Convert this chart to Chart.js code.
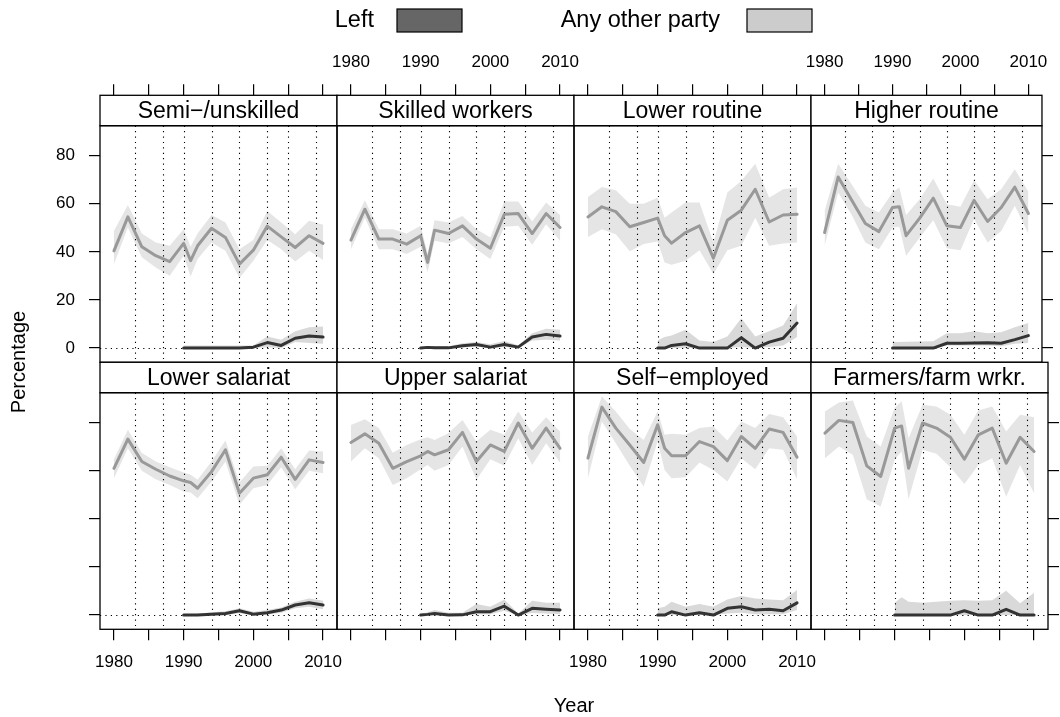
<!DOCTYPE html>
<html>
<head>
<meta charset="utf-8">
<script src="https://cdn.jsdelivr.net/npm/chart.js@4.4.1/dist/chart.umd.min.js"></script>
<style>
  html, body { margin: 0; padding: 0; background: #fff; }
  #wrap { position: relative; width: 1060px; height: 717px; overflow: hidden; background: #fff; }
  #wrap canvas { position: absolute; left: 0; top: 0; }
</style>
</head>
<body>
<div id="wrap"></div>
<script>
// ---- data -------------------------------------------------------------
const classes = ['Semi\u2212/unskilled', 'Skilled workers', 'Lower routine', 'Higher routine',
                 'Lower salariat', 'Upper salariat', 'Self\u2212employed', 'Farmers/farm wrkr.'];

const years = [1980, 1982, 1984, 1986, 1988, 1990, 1991, 1992, 1994, 1996, 1998, 2000, 2002, 2004, 2006, 2008, 2010];
const leftYears = [1990, 1991, 1992, 1994, 1996, 1998, 2000, 2002, 2004, 2006, 2008, 2010];
const electionYears = [1983, 1987, 1990, 1994, 1998, 2002, 2005, 2009];
const xTickValues = [1980, 1985, 1990, 1995, 2000, 2005, 2010];
const yTickValues = [0, 20, 40, 60, 80];
const legendLabels = ['Left', 'Any other party'];

// "Any other party": estimate and interval, one row per class
const otherMean = [
  [40.4, 54.5, 42.1, 38.4, 35.9, 43.5, 36.3, 42.5, 49.8, 46.0, 34.9, 40.7, 50.7, 46.2, 41.8, 46.7, 43.5],
  [44.9, 57.7, 45.3, 45.3, 43.2, 46.7, 35.6, 49.0, 47.6, 50.8, 45.3, 41.5, 55.6, 55.9, 47.6, 55.9, 50.1],
  [54.5, 58.7, 56.7, 50.4, 52.2, 54.0, 46.7, 43.6, 48.0, 50.8, 37.4, 53.1, 57.3, 66.0, 52.4, 55.3, 55.6],
  [48.0, 71.1, 61.4, 51.8, 48.4, 58.4, 58.7, 46.7, 54.0, 62.3, 50.8, 50.1, 61.4, 52.6, 58.4, 66.9, 55.9],
  [61.0, 73.1, 63.8, 60.6, 57.8, 55.8, 55.1, 52.7, 59.6, 68.7, 50.6, 56.9, 58.3, 65.6, 56.4, 64.5, 63.4],
  [71.7, 75.3, 71.4, 61.0, 63.8, 66.2, 68.0, 66.6, 68.7, 75.9, 63.8, 70.7, 68.0, 79.8, 69.3, 77.7, 69.3],
  [65.2, 86.4, 77.7, 70.7, 63.4, 79.1, 69.3, 66.2, 66.2, 72.1, 70.0, 64.2, 74.2, 69.3, 77.3, 75.9, 65.6],
  [75.6, 80.9, 80.0, 62.0, 57.6, 77.7, 78.6, 61.0, 79.8, 77.7, 73.9, 64.8, 74.9, 77.7, 63.1, 73.9, 68.0]
];
const otherHigh = [
  [48.7, 59.5, 47.6, 43.9, 42.5, 49.4, 42.1, 47.6, 55.3, 52.2, 41.1, 44.9, 57.0, 52.2, 47.3, 52.9, 51.2],
  [49.4, 61.4, 49.4, 49.4, 47.6, 50.8, 39.3, 53.1, 52.2, 54.9, 49.4, 46.0, 60.9, 60.9, 52.6, 60.5, 55.3],
  [62.8, 66.9, 65.6, 60.0, 60.0, 62.5, 54.2, 56.3, 60.5, 60.5, 43.9, 64.6, 69.4, 76.6, 62.5, 66.0, 66.7],
  [57.0, 76.6, 68.0, 59.1, 56.3, 64.6, 66.7, 55.3, 61.8, 70.5, 59.8, 58.7, 69.7, 61.8, 66.0, 74.3, 65.0],
  [64.8, 77.0, 67.3, 63.8, 61.4, 59.2, 58.3, 56.2, 63.8, 72.5, 55.1, 61.7, 62.0, 69.3, 60.6, 68.4, 68.0],
  [79.0, 81.4, 77.7, 67.5, 70.7, 73.1, 73.9, 72.8, 75.6, 81.1, 72.1, 77.0, 74.9, 84.6, 75.9, 82.2, 76.3],
  [74.2, 90.8, 84.6, 77.3, 72.8, 84.6, 74.9, 75.3, 74.9, 77.7, 78.4, 72.5, 80.4, 77.7, 83.6, 82.2, 74.2],
  [84.6, 88.3, 89.2, 74.2, 70.0, 86.1, 88.8, 73.5, 87.4, 86.7, 83.2, 74.9, 85.0, 86.7, 76.3, 83.2, 82.2]
];
const otherLow = [
  [34.9, 50.1, 37.7, 33.5, 30.1, 38.4, 29.7, 37.0, 43.9, 40.4, 29.1, 36.3, 44.9, 41.1, 36.0, 40.4, 36.6],
  [41.1, 54.2, 41.1, 41.1, 39.1, 42.1, 31.5, 44.6, 43.5, 46.2, 41.1, 37.0, 50.4, 50.8, 42.9, 51.5, 44.6],
  [46.2, 49.4, 47.3, 40.2, 43.2, 44.3, 35.6, 34.6, 36.3, 40.7, 30.8, 40.7, 42.5, 54.2, 42.5, 43.5, 43.9],
  [42.5, 64.6, 55.3, 43.9, 41.1, 50.1, 50.4, 38.4, 46.0, 53.1, 41.5, 40.7, 53.6, 43.9, 48.7, 59.1, 47.6],
  [56.9, 69.3, 60.0, 56.4, 54.1, 51.3, 50.9, 48.5, 55.5, 63.8, 45.8, 52.7, 54.1, 61.4, 52.3, 60.0, 58.9],
  [63.8, 69.3, 65.2, 54.1, 56.9, 60.6, 62.4, 60.0, 62.4, 70.0, 56.2, 64.8, 62.0, 73.5, 62.4, 71.4, 63.4],
  [56.9, 80.4, 71.4, 62.0, 53.4, 72.1, 60.3, 56.9, 57.3, 63.4, 60.3, 55.5, 65.2, 60.6, 69.3, 68.7, 56.4],
  [65.2, 70.0, 66.6, 48.1, 45.1, 64.5, 68.0, 48.1, 68.7, 67.0, 61.4, 54.5, 62.4, 65.2, 49.2, 62.4, 50.6]
];

// "Left": estimate and interval from 1990 on, one row per class
const leftMean = [
  [0, 0, 0, 0, 0, 0, 0.4, 2.3, 1.1, 4.1, 5.0, 4.6],
  [0, 0.3, 0.1, 0.1, 1.0, 1.5, 0.4, 1.5, 0.4, 4.6, 5.7, 5.0],
  [0, 0, 1.1, 1.8, 0, 0, 0, 4.3, 0, 2.5, 4.1, 10.4],
  [0, 0, 0, 0, 0, 2.0, 2.0, 2.1, 2.2, 2.0, 3.5, 5.2],
  [0, 0, 0, 0.4, 0.7, 1.8, 0.4, 1.0, 2.1, 4.2, 5.1, 4.2],
  [0, 0.3, 0.7, 0, 0.1, 1.4, 1.4, 3.7, 0, 2.8, 2.4, 2.1],
  [0, 0, 1.4, 0, 1.0, 0, 2.8, 3.5, 2.1, 2.4, 1.8, 5.1],
  [0, 0, 0, 0, 0, 0, 1.8, 0, 0, 2.4, 0, 0]
];
const leftHigh = [
  [1.1, 1.1, 1.1, 1.1, 1.1, 1.1, 1.1, 4.8, 3.5, 7.0, 8.7, 9.0],
  [0.4, 0.7, 0.8, 0.8, 2.0, 2.5, 1.6, 2.9, 1.2, 6.2, 8.0, 7.6],
  [3.2, 4.6, 5.2, 7.6, 3.2, 2.5, 4.8, 12.4, 4.8, 7.0, 9.4, 18.6],
  [2.5, 2.5, 2.6, 2.7, 2.8, 6.2, 6.2, 7.0, 6.2, 6.6, 8.7, 10.4],
  [0.4, 0.5, 0.6, 1.2, 1.6, 2.8, 1.4, 2.1, 3.2, 5.5, 6.9, 6.0],
  [0.4, 1.2, 2.1, 1.0, 1.0, 4.6, 3.5, 6.5, 0.7, 6.0, 5.1, 5.1],
  [2.8, 3.5, 5.5, 3.5, 4.6, 3.5, 6.5, 7.9, 6.9, 6.5, 6.2, 10.4],
  [5.1, 7.4, 5.5, 5.1, 5.5, 6.0, 6.2, 6.0, 6.2, 10.1, 4.9, 9.3]
];
const leftLow = [
  [0, 0, 0, 0, 0, 0, 0, 0.4, 0, 2.5, 2.1, 1.8],
  [0, 0, 0, 0, 0.2, 0.6, 0, 0.5, 0, 3.2, 3.5, 3.2],
  [0, 0, 0, 0, 0, 0, 0, 0.5, 0, 0.5, 1.1, 4.6],
  [0, 0, 0, 0, 0, 1.1, 1.1, 1.1, 1.1, 0.8, 1.8, 2.1],
  [0, 0, 0, 0, 0, 0.8, 0, 0.2, 1.0, 2.8, 3.5, 2.4],
  [0, 0, 0, 0, 0, 0.4, 0.4, 1.8, 0, 0.9, 0.7, 0.4],
  [0, 0, 0, 0, 0, 0, 0.7, 1.0, 0.4, 0.4, 0.4, 2.1],
  [0, 0, 0, 0, 0, 0, 0, 0, 0, 0, 0, 0]
];

// ---- layout -----------------------------------------------------------
const W = 1060, H = 717;
const FONT = '"Liberation Sans", Arial, Helvetica, sans-serif';
const colLeft = c => 100 + 237 * c;
const rowTop = r => 95.3 + 267 * r;
const PANEL_W = 237, PANEL_H = 267, STRIP_H = 30.4, PLOT_H = PANEL_H - STRIP_H;
const X_MIN = 1978, X_MAX = 2012;
const Y_MIN = -5.9, Y_PLOT_TOP = 92.4;
// the strip sits inside the chart area, above the plotted range
const Y_MAX = Y_PLOT_TOP + STRIP_H * (Y_PLOT_TOP - Y_MIN) / PLOT_H;
const TICK_LEN = 11, X_AXIS_H = 48, Y_AXIS_W = 60, R_AXIS_W = 12;

const colors = {
  left: '#333333', leftBand: 'rgba(102,102,102,0.25)', leftKey: '#666666',
  other: '#999999', otherBand: 'rgba(204,204,204,0.5)', otherKey: '#cccccc'
};

const pts = (xs, ys) => xs.map((x, k) => ({ x, y: ys[k] }));

// strip, frame and dotted reference lines of one panel
const panelFrame = {
  id: 'panelFrame',
  beforeDatasetsDraw(chart, args, opts) {
    const { ctx, chartArea: a, scales: { x, y } } = chart;
    const top = a.top + STRIP_H;
    ctx.save();
    ctx.strokeStyle = '#000';
    ctx.lineWidth = 1.1;
    ctx.setLineDash([1.2, 4.2]);
    electionYears.forEach(yr => {
      const px = Math.round(x.getPixelForValue(yr)) + 0.5;
      ctx.beginPath(); ctx.moveTo(px, top); ctx.lineTo(px, a.bottom); ctx.stroke();
    });
    const py = Math.round(y.getPixelForValue(0)) + 0.5;
    ctx.beginPath(); ctx.moveTo(a.left, py); ctx.lineTo(a.right, py); ctx.stroke();
    ctx.restore();
  },
  afterDraw(chart, args, opts) {
    const { ctx, chartArea: a } = chart;
    ctx.save();
    ctx.fillStyle = '#fff';
    ctx.fillRect(a.left, a.top, a.right - a.left, STRIP_H);
    ctx.strokeStyle = '#000';
    ctx.lineWidth = 1.3;
    ctx.strokeRect(a.left, a.top, a.right - a.left, STRIP_H);
    ctx.strokeRect(a.left, a.top + STRIP_H, a.right - a.left, a.bottom - a.top - STRIP_H);
    ctx.fillStyle = '#000';
    ctx.font = '23px ' + FONT;
    ctx.textAlign = 'center';
    ctx.textBaseline = 'middle';
    ctx.fillText(opts.title, (a.left + a.right) / 2, a.top + STRIP_H / 2 + 1);
    ctx.restore();
  }
};

// key and axis titles of the whole figure
const pageText = {
  id: 'pageText',
  afterDraw(chart) {
    const ctx = chart.ctx;
    ctx.save();
    ctx.fillStyle = '#000';
    ctx.font = '23.5px ' + FONT;
    ctx.textBaseline = 'middle';
    ctx.textAlign = 'right';
    ctx.fillText(legendLabels[0], 374, 21);
    ctx.fillText(legendLabels[1], 720, 21);
    ctx.lineWidth = 1.2;
    ctx.strokeStyle = '#000';
    ctx.fillStyle = colors.leftKey;
    ctx.fillRect(397, 9, 65, 23); ctx.strokeRect(397, 9, 65, 23);
    ctx.fillStyle = colors.otherKey;
    ctx.fillRect(747, 9, 65, 23); ctx.strokeRect(747, 9, 65, 23);
    ctx.fillStyle = '#000';
    ctx.font = '20px ' + FONT;
    ctx.textAlign = 'center';
    ctx.fillText('Year', 574, 706);
    ctx.translate(19, 362);
    ctx.rotate(-Math.PI / 2);
    ctx.fillText('Percentage', 0, 0);
    ctx.restore();
  }
};

const wrap = document.getElementById('wrap');

classes.forEach((title, i) => {
  const col = i % 4, row = Math.floor(i / 4);
  const area = { l: colLeft(col), r: colLeft(col) + PANEL_W, t: rowTop(row), b: rowTop(row) + PANEL_H };
  const xLabelled = (row === 0 && col % 2 === 1) || (row === 1 && col % 2 === 0);
  const showY = col === 0 || col === 3;

  const canvas = document.createElement('canvas');
  canvas.width = W; canvas.height = H;
  wrap.appendChild(canvas);

  const tickFont = { family: FONT, size: 17 };
  const gridOpts = { display: true, drawOnChartArea: false, drawTicks: true, tickLength: TICK_LEN, color: '#000', lineWidth: 1.2 };

  new Chart(canvas, {
    type: 'line',
    data: {
      datasets: [
        { data: pts(leftYears, leftMean[i]), borderColor: colors.left, borderWidth: 3, pointRadius: 0, fill: false,
          borderCapStyle: 'round', borderJoinStyle: 'round' },
        { data: pts(years, otherMean[i]), borderColor: colors.other, borderWidth: 3, pointRadius: 0, fill: false,
          borderCapStyle: 'round', borderJoinStyle: 'round' },
        { data: pts(years, otherHigh[i]), borderWidth: 0, pointRadius: 0, fill: '+1', backgroundColor: colors.otherBand },
        { data: pts(years, otherLow[i]), borderWidth: 0, pointRadius: 0, fill: false },
        { data: pts(leftYears, leftHigh[i]), borderWidth: 0, pointRadius: 0, fill: '+1', backgroundColor: colors.leftBand },
        { data: pts(leftYears, leftLow[i]), borderWidth: 0, pointRadius: 0, fill: false }
      ]
    },
    options: {
      responsive: false,
      animation: false,
      devicePixelRatio: 1,
      events: [],
      layout: {
        padding: {
          left: area.l - (col === 0 ? Y_AXIS_W : 0),
          right: W - area.r - (col === 3 ? R_AXIS_W : 0),
          top: area.t - (row === 0 ? X_AXIS_H : 0),
          bottom: H - area.b - (row === 1 ? X_AXIS_H : 0)
        }
      },
      plugins: {
        legend: { display: false },
        tooltip: { enabled: false },
        filler: { drawTime: 'beforeDatasetsDraw' },
        panelFrame: { title }
      },
      scales: {
        x: {
          type: 'linear', min: X_MIN, max: X_MAX,
          position: row === 0 ? 'top' : 'bottom',
          grid: gridOpts,
          border: { display: false },
          afterBuildTicks: s => { s.ticks = xTickValues.map(v => ({ value: v })); },
          afterFit: s => { s.height = X_AXIS_H; },
          ticks: {
            autoSkip: false, maxRotation: 0, padding: 12, color: '#000', font: tickFont,
            callback: v => (xLabelled && v % 10 === 0) ? String(v) : ''
          }
        },
        y: {
          type: 'linear', min: Y_MIN, max: Y_MAX,
          display: showY,
          position: col === 3 ? 'right' : 'left',
          grid: gridOpts,
          border: { display: false },
          afterBuildTicks: s => { s.ticks = yTickValues.map(v => ({ value: v })); },
          afterFit: s => { s.width = !showY ? 0 : (col === 3 ? R_AXIS_W : Y_AXIS_W); },
          ticks: {
            autoSkip: false, padding: 14, color: '#000', font: tickFont,
            callback: v => (row === 0 && col === 0) ? String(v) : ''
          }
        }
      }
    },
    plugins: i === 0 ? [panelFrame, pageText] : [panelFrame]
  });
});
</script>
</body>
</html>
